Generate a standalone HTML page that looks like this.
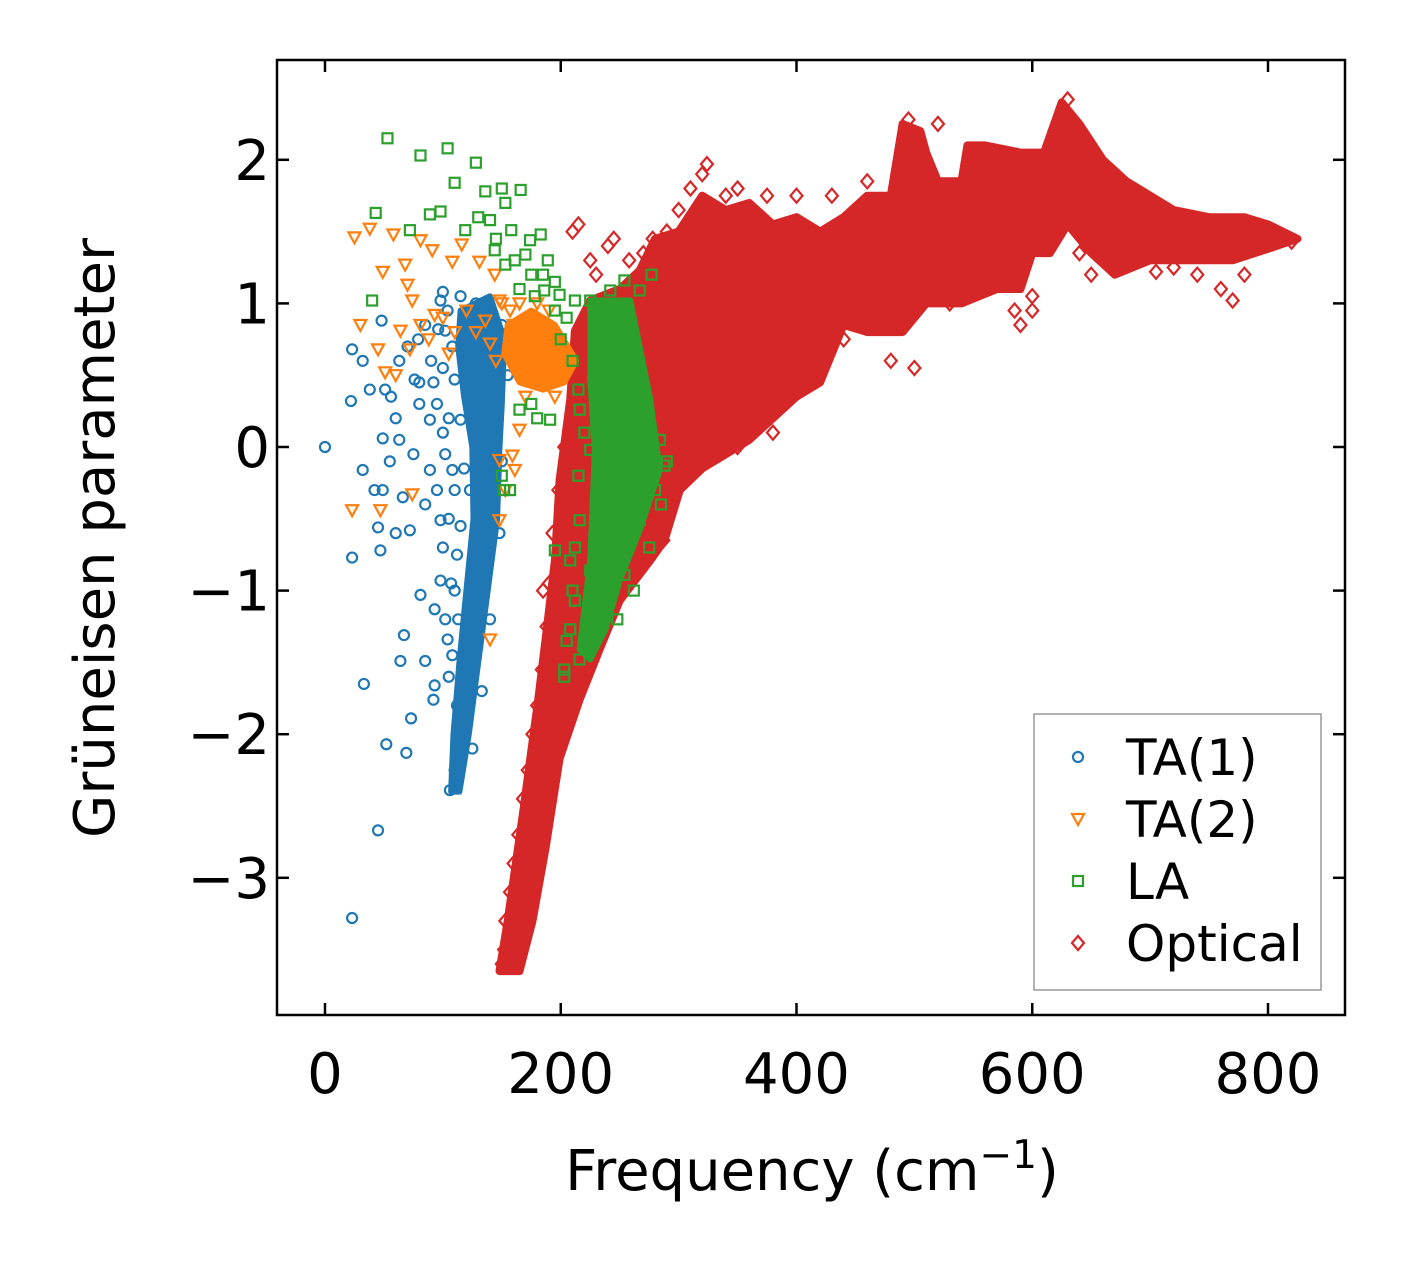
<!DOCTYPE html>
<html><head><meta charset="utf-8"><style>
html,body{margin:0;padding:0;background:#fff;}
svg text{font-family:"DejaVu Sans","Liberation Sans",sans-serif;fill:#000;}
</style></head><body>
<svg id="chart" width="1406" height="1264" viewBox="0 0 1406 1264" xmlns="http://www.w3.org/2000/svg">
<rect width="1406" height="1264" fill="#fff"/>
<g id="marks"></g>
<g id="axes"></g>
</svg>
<script>
const xTicks=[0,200,400,600,800];
const yTicks=[2,1,0,-1,-2,-3];
const yTickLabels=["2","1","0","\u22121","\u22122","\u22123"];
const legendLabels=["TA(1)","TA(2)","LA","Optical"];
const opticalOutline=[[148,-3.65],[155,-3.3],[161,-2.95],[168,-2.55],[174,-2.18],[181,-1.75],[187,-1.35],[195,-0.79],[199,-0.23],[208,0.33],[212,0.81],[225,1.02],[250,1.1],[267,1.23],[280,1.45],[300,1.5],[320,1.75],[340,1.65],[360,1.7],[380,1.55],[400,1.6],[420,1.5],[440,1.6],[460,1.75],[480,1.75],[490,2.25],[505,2.2],[510,2.05],[520,1.85],[540,1.85],[545,2.1],[560,2.1],[590,2.05],[610,2.05],[625,2.4],[640,2.25],[660,2.0],[680,1.85],[700,1.75],[720,1.65],[750,1.6],[780,1.6],[800,1.55],[825,1.45],[800,1.38],[770,1.3],[740,1.3],[700,1.3],[670,1.2],[650,1.35],[630,1.55],[615,1.35],[600,1.35],[590,1.1],[570,1.1],[540,1.0],[510,1.0],[490,0.8],[460,0.8],[440,0.85],[420,0.45],[400,0.35],[380,0.2],[360,0.05],[340,-0.05],[320,-0.15],[301,-0.3],[288,-0.65],[276,-0.79],[250,-1.07],[233,-1.41],[216,-1.76],[199,-2.17],[187,-2.8],[176,-3.3],[165,-3.65]];
const ta1Outline=[[115,0.95],[140,1.05],[152,0.75],[150,0.3],[148,0.0],[146,-0.5],[138,-1.0],[130,-1.5],[122,-2.0],[114,-2.4],[107,-2.4],[109,-2.0],[114,-1.5],[120,-1.0],[126,-0.5],[125,0.0],[118,0.35],[113,0.7]];
const ta2Outline=[[155,0.85],[175,0.95],[195,0.85],[213,0.6],[203,0.45],[185,0.4],[165,0.45],[152,0.65]];
const laOutline=[[225,1.02],[259,1.02],[276,0.33],[284,-0.16],[267,-0.58],[250,-0.93],[238,-1.27],[225,-1.48],[216,-1.41],[225,-0.79],[229,-0.02],[225,0.47]];
const opticalPoints=[[324,1.97],[320,1.9],[310,1.8],[300,1.65],[290,1.5],[278,1.45],[270,1.35],[258,1.3],[245,1.45],[240,1.4],[215,1.55],[210,1.5],[225,1.3],[230,1.2],[390,0.3],[380,0.1],[370,0.2],[360,0.1],[350,0.0],[335,-0.05],[320,-0.1],[530,1.0],[500,0.55],[480,0.6],[590,0.85],[585,0.95],[600,1.05],[770,1.02],[760,1.1],[720,1.25],[690,1.3],[650,1.2],[640,1.35],[560,1.1],[540,1.05],[440,0.75],[420,0.6],[460,1.85],[430,1.75],[400,1.75],[375,1.75],[350,1.8],[340,1.75],[150,-3.6],[152,-3.5],[153,-3.3],[157,-3.1],[160,-2.9],[164,-2.7],[168,-2.45],[172,-2.25],[176,-2.0],[180,-1.8],[184,-1.55],[185,-1.0],[190,-0.95],[188,-1.25],[193,-0.6],[198,-0.3],[203,0.0],[520,2.25],[495,2.28],[630,2.42],[820,1.43],[780,1.2],[740,1.2],[705,1.22],[600,0.95],[287,-0.65],[280,-0.55],[265,-0.85],[255,-0.95]];
const ta1Points=[[0,0],[23,-3.28],[45,-2.67],[33,-1.65],[23,-0.77],[52,-2.07],[69,-2.13],[73,-1.89],[92,-1.76],[93,-1.66],[64,-1.49],[67,-1.31],[85,-1.49],[23,0.68],[32,0.6],[22,0.32],[48,0.88],[51,0.4],[49,0.06],[49,-0.3],[45,-0.56],[47,-0.72],[32,-0.16],[63,0.05],[66,-0.35],[72,-0.58],[81,-1.03],[76,0.47],[79,0.75],[63,0.6],[89,0.19],[89,-0.16],[98,-0.51],[98,-0.93],[102,-1.2],[104,-1.34],[93,-1.13],[98,1.02],[102,0.81],[110,0.47],[115,0.19],[108,-0.16],[123,-0.3],[106,-2.39],[110,-2.25],[114,-2.0],[119,-1.7],[123,-1.4],[112,-1.8],[120,0.6],[108,0.7],[100,0.55],[95,0.3],[105,0.2],[100,-0.7],[110,-1.0],[85,-0.4],[80,0.3],[90,0.6],[70,0.7],[60,0.2],[55,-0.1],[75,-0.05],[95,-0.3],[105,-0.5],[60,-0.6],[100,1.08],[115,1.05],[128,1.0],[38,0.4],[42,-0.3],[56,0.35],[85,0.85],[80,0.45],[104,0.95],[96,0.82],[92,0.45],[100,0.1],[110,-0.3],[115,-0.55],[112,-0.75],[107,-0.95],[113,-1.2],[108,-1.45],[105,-1.6],[118,-0.15],[102,-0.05],[118,0.85],[130,0.9],[150,0.85],[155,0.5],[150,-0.1],[148,-0.6],[140,-1.2],[133,-1.7],[125,-2.1]];
const ta2Points=[[25,1.46],[38,1.52],[58,1.48],[81,1.44],[91,1.37],[49,1.22],[68,1.27],[70,1.13],[74,1.02],[30,0.85],[45,0.68],[51,0.52],[64,0.81],[72,0.68],[81,0.85],[93,0.92],[108,1.29],[116,1.41],[131,1.29],[144,1.2],[136,0.88],[148,1.02],[157,0.95],[23,-0.44],[47,-0.44],[74,-0.33],[140,-1.34],[148,-0.51],[153,-0.3],[159,-0.06],[165,0.12],[148,-0.09],[161,-0.16],[160,0.85],[170,0.6],[185,0.5],[200,0.6],[205,0.55],[100,0.9],[88,0.75],[105,0.65],[60,0.5],[150,1.0],[165,1.0],[120,0.95],[128,0.8],[140,0.72],[110,0.8],[180,1.0],[190,0.95],[195,0.35],[170,0.35],[145,0.6]];
const laPoints=[[53,2.15],[81,2.03],[104,2.08],[128,1.98],[43,1.63],[110,1.84],[136,1.78],[150,1.8],[153,1.7],[166,1.79],[89,1.62],[98,1.64],[119,1.51],[140,1.58],[158,1.51],[174,1.44],[183,1.48],[40,1.02],[72,1.51],[144,1.37],[153,1.27],[161,1.3],[170,1.34],[189,1.3],[186,1.09],[199,1.06],[212,1.02],[225,1.02],[233,0.95],[242,1.09],[254,1.16],[267,1.09],[277,1.2],[259,0.81],[229,0.6],[242,0.54],[267,0.54],[233,0.4],[216,0.26],[250,0.19],[267,0.19],[284,0.05],[288,-0.13],[225,-0.02],[237,-0.16],[254,-0.16],[271,-0.16],[280,-0.3],[233,-0.37],[250,-0.44],[267,-0.51],[216,-0.51],[233,-0.65],[246,-0.68],[208,-0.79],[225,-0.86],[242,-0.89],[254,-0.89],[212,-1.07],[225,-1.14],[233,-1.2],[208,-1.27],[220,-1.34],[216,-1.48],[203,-1.55],[195,-0.72],[157,-0.3],[191,0.19],[165,0.26],[175,1.2],[165,1.1],[145,1.45],[130,1.6],[205,0.9],[195,0.95],[150,-0.2],[152,-0.3],[180,0.2],[175,0.3],[210,-1.0],[205,-1.35],[203,-1.6],[185,1.2],[195,1.15],[178,1.05],[200,0.75],[210,0.6],[215,0.4],[220,0.1],[215,-0.2],[212,-0.7],[290,-0.1],[285,-0.4],[275,-0.7],[262,-1.0],[248,-1.2]];

const X0=325,XS=235.75/200,Y0=447,YS=143.6;
function xs(f){return X0+f*XS;}
function ys(g){return Y0-g*YS;}
const NS="http://www.w3.org/2000/svg";
const marks=document.getElementById('marks'), axes=document.getElementById('axes');
function mk(tag,attrs,parent){const e=document.createElementNS(NS,tag);for(const k in attrs)e.setAttribute(k,attrs[k]);parent.appendChild(e);return e;}
const cols={ta1:"#1f77b4",ta2:"#ff7f0e",la:"#2ca02c",opt:"#d62728"};
function marker(kind,cx,cy,parent){
  let e;
  if(kind==="ta1") e=mk('circle',{cx:cx,cy:cy,r:5,fill:'none',stroke:cols.ta1,'stroke-width':2.2},parent);
  else if(kind==="ta2") e=mk('path',{d:`M${cx-6},${cy-5}L${cx+6},${cy-5}L${cx},${cy+6}Z`,fill:'none',stroke:cols.ta2,'stroke-width':2.2},parent);
  else if(kind==="la") e=mk('rect',{x:cx-5,y:cy-5,width:10,height:10,fill:'none',stroke:cols.la,'stroke-width':2.2},parent);
  else e=mk('path',{d:`M${cx},${cy-7}L${cx+6},${cy}L${cx},${cy+7}L${cx-6},${cy}Z`,fill:'none',stroke:cols.opt,'stroke-width':2.2},parent);
  return e;
}
function outlinePath(arr){return 'M'+arr.map(p=>xs(p[0]).toFixed(1)+','+ys(p[1]).toFixed(1)).join('L')+'Z';}
const clip=mk('clipPath',{id:'pc'},marks);mk('rect',{x:277,y:60,width:1068,height:955},clip);
const g=mk('g',{'clip-path':'url(#pc)'},marks);
const poly=mk('path',{d:outlinePath(opticalOutline),fill:cols.opt,stroke:cols.opt,'stroke-width':8,'stroke-linejoin':'round'},g);


opticalPoints.forEach(p=>{const e=marker('opt',xs(p[0]),ys(p[1]),g);

});
const p1=mk('path',{d:outlinePath(ta1Outline),fill:cols.ta1,stroke:cols.ta1,'stroke-width':6,'stroke-linejoin':'round'},g);


ta1Points.forEach(p=>{const e=marker('ta1',xs(p[0]),ys(p[1]),g);

});
const p2=mk('path',{d:outlinePath(ta2Outline),fill:cols.ta2,stroke:cols.ta2,'stroke-width':6,'stroke-linejoin':'round'},g);


ta2Points.forEach(p=>{const e=marker('ta2',xs(p[0]),ys(p[1]),g);

});
const p3=mk('path',{d:outlinePath(laOutline),fill:cols.la,stroke:cols.la,'stroke-width':6,'stroke-linejoin':'round'},g);


laPoints.forEach(p=>{const e=marker('la',xs(p[0]),ys(p[1]),g);

});

const fr=mk('rect',{x:277,y:60,width:1068,height:955,fill:'none',stroke:'#000','stroke-width':2.5},axes);


xTicks.forEach(t=>{const x=xs(t);
 mk('line',{x1:x,y1:1015,x2:x,y2:1003,stroke:'#000','stroke-width':2.5},axes);
 mk('line',{x1:x,y1:60,x2:x,y2:72,stroke:'#000','stroke-width':2.5},axes);
 const tx=mk('text',{x:x,y:1093,'font-size':56,'text-anchor':'middle'},axes);tx.textContent=t;
 
 });
yTicks.forEach((t,i)=>{const y=ys(t);
 mk('line',{x1:277,y1:y,x2:289,y2:y,stroke:'#000','stroke-width':2.5},axes);
 mk('line',{x1:1345,y1:y,x2:1333,y2:y,stroke:'#000','stroke-width':2.5},axes);
 const tx=mk('text',{x:270,y:y+20,'font-size':56,'text-anchor':'end'},axes);tx.textContent=yTickLabels[i];
 
 });
const xt=mk('text',{x:812,y:1190,'font-size':56,'text-anchor':'middle'},axes);
xt.innerHTML='Frequency (cm<tspan dy="-22" font-size="39">\u22121</tspan><tspan dy="22">)</tspan>';


const yt=mk('text',{x:0,y:0,'font-size':56,'text-anchor':'middle',transform:'translate(114,538) rotate(-90)'},axes);
yt.textContent='Grüneisen parameter';


const lg=mk('g',{},axes);


mk('rect',{x:1034,y:714,width:287,height:276,fill:'#fff',stroke:'#999','stroke-width':1.5},lg);
const kinds=['ta1','ta2','la','opt'];
legendLabels.forEach((l,i)=>{const y=757+i*62;
 const m=marker(kinds[i],1078,y,lg);
 
 
 const t=mk('text',{x:1126,y:y+18,'font-size':50},lg);t.textContent=l;
 
 });
</script>
</body></html>
